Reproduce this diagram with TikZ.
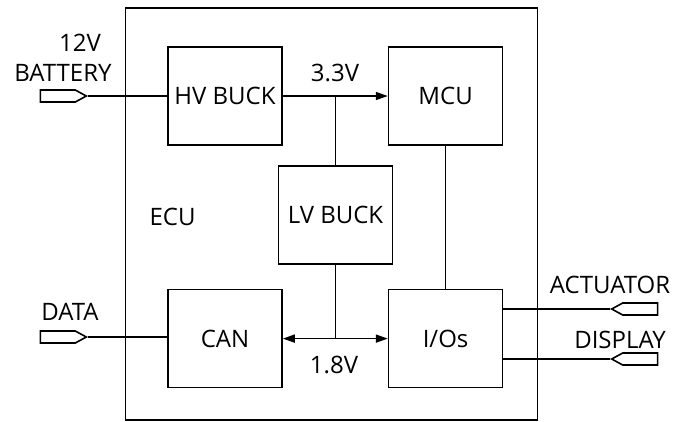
\documentclass[tikz,border=0pt]{standalone}
\usepackage{fontspec}
\setmainfont{Open Sans}
\usetikzlibrary{shapes.symbols,arrows.meta,positioning}

\tikzset{
  block/.style={draw,minimum width=114pt,minimum height=98pt,inner sep=0pt},
  port/.style={draw,signal,signal from=nowhere,signal pointer angle=57,minimum width=46pt,minimum height=12pt,inner sep=0pt},
  tip/.style={-{Triangle[length=12pt,width=8pt]}}
}

\begin{document}
\begin{tikzpicture}[x=1pt,y=-1pt,line width=1.6pt,font=\fontsize{24}{28}\selectfont]
    \useasboundingbox (0,0) rectangle (691,421);
    \node[draw,minimum width=412pt,minimum height=412pt] (ecu) at (331.5,214) {};
    \node (ecutxt) at (172.5,217) {ECU};

    \node[block] (hv) at (225,96) {HV BUCK};
    \node[block,right=105pt of hv] (mcu) {MCU};
    \node[block] (lv) at (335.5,215) {LV BUCK};
    \node[block,below=143pt of hv] (can) {CAN};
    \node[block,below=143pt of mcu] (io) {I/Os};

    \node[port,signal to=east,anchor=east] (bat) at (88,96) {};
    \node[port,signal to=east,anchor=east] (data) at (88,337) {};
    \node[port,signal to=west,anchor=west] (act) at (610,309) {};
    \node[port,signal to=west,anchor=west] (disp) at (610,359) {};

    \node (v12) at (80,43) {12V};
    \node (battxt) at (63,73) {BATTERY};
    \node (datatxt) at (70,312) {DATA};
    \node (acttxt) at (610,285) {ACTUATOR};
    \node (disptxt) at (620,340) {DISPLAY};
    \node (v33) at (335,73) {3.3V};
    \node (v18) at (334,365) {1.8V};

    \coordinate (j1) at (lv.north |- hv.east);
    \coordinate (j2) at (lv.south |- can.east);

    \draw (bat.east) -- (bat.east -| hv.west);
    \draw (data.east) -- (data.east -| can.west);
    \draw[tip] (hv.east) -- (hv.east -| mcu.west);
    \draw (j1) -- (lv.north);
    \draw (lv.south) -- (j2);
    \draw[{Triangle[length=12pt,width=8pt]}-{Triangle[length=12pt,width=8pt]}] (can.east) -- (io.west);
    \draw (mcu.south) -- (io.north);
    \draw (act.west) -- (act.west -| io.east);
    \draw (disp.west) -- (disp.west -| io.east);
\end{tikzpicture}
\end{document}
